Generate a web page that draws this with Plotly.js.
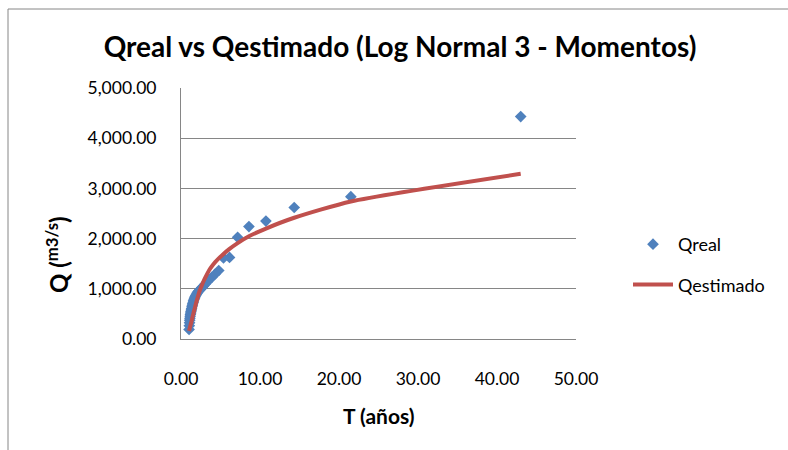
<!DOCTYPE html>
<html>
<head>
<meta charset="utf-8">
<script src="https://cdn.plot.ly/plotly-3.0.1.min.js"></script>
<style>
html,body{margin:0;padding:0;background:#fff;}
#chart{width:788px;height:450px;}
</style>
</head>
<body>
<div id="chart"></div>
<script>
// Return period T (años)
const T = [43.00, 21.50, 14.33, 10.75, 8.60, 7.17, 6.14, 5.38, 4.78, 4.30,
           3.91, 3.58, 3.31, 3.07, 2.87, 2.69, 2.53, 2.39, 2.26, 2.15,
           2.05, 1.95, 1.87, 1.79, 1.72, 1.65, 1.59, 1.54, 1.48, 1.43,
           1.39, 1.34, 1.30, 1.26, 1.23, 1.19, 1.16, 1.13, 1.10, 1.08,
           1.05, 1.02];
// Observed discharge (m3/s)
const Qreal = [4430, 2835, 2620, 2350, 2240, 2025, 1625, 1615, 1365, 1290,
               1230, 1180, 1135, 1095, 1060, 1030, 1005, 980, 960, 940,
               915, 890, 865, 840, 815, 790, 760, 730, 700, 670,
               640, 610, 580, 550, 520, 490, 455, 415, 375, 325,
               265, 190];
// Estimated discharge (Log Normal 3 - Momentos)
const Qestimado = [3290, 2740, 2415, 2200, 2045, 1910, 1795, 1695, 1605, 1525,
                   1450, 1375, 1297, 1221, 1155, 1091, 1031, 971, 909, 849,
                   794, 740, 690, 640, 595, 558, 522, 488, 455, 423,
                   391, 362, 330, 311, 290, 269, 250, 231, 213, 195,
                   177, 160];
const xTicks = [0, 10, 20, 30, 40, 50];
const yTicks = [0, 1000, 2000, 3000, 4000, 5000];

const FONT = 'Lato, Carlito, Calibri, "Open Sans", sans-serif';

// pixel -> paper helpers for the plot box (l=181, r=576, t=88, b=339)
const L = 181, R = 576, TOP = 88, BOT = 339;
const px = x => (x - L) / (R - L);
const py = y => (BOT - y) / (BOT - TOP);

const traces = [
  {
    x: T, y: Qreal, name: 'Qreal', type: 'scatter', mode: 'markers',
    legendgroup: 'a',
    marker: {symbol: 'diamond', size: 9, color: '#4F81BD', line: {width: 0}}
  },
  {
    x: T, y: Qestimado, name: 'Qestimado', type: 'scatter', mode: 'lines',
    legendgroup: 'b',
    line: {color: '#C0504D', width: 4, shape: 'spline', smoothing: 0.6}
  }
];

const layout = {
  width: 788, height: 450,
  margin: {l: L, r: 788 - R, t: TOP, b: 450 - BOT, pad: 0},
  paper_bgcolor: '#ffffff', plot_bgcolor: '#ffffff',
  font: {family: FONT, color: '#000000', size: 17},
  title: {
    text: '<b>Qreal vs Qestimado (Log Normal 3 - Momentos)</b>',
    font: {family: FONT, size: 28, color: '#000000'},
    xref: 'container', yref: 'container',
    x: 400 / 788, y: 1 - 47 / 450, xanchor: 'center', yanchor: 'middle'
  },
  xaxis: {
    range: [0, 50], tickvals: xTicks, tickformat: ',.2f',
    showgrid: false, zeroline: false,
    showline: true, linecolor: '#868686', linewidth: 1,
    ticks: '', ticklabelstandoff: 24,
    tickfont: {family: FONT, size: 17.5, color: '#000000'},
    fixedrange: true
  },
  yaxis: {
    range: [0, 5000], tickvals: yTicks, tickformat: ',.2f',
    showgrid: true, gridcolor: '#868686', gridwidth: 1,
    zeroline: false,
    showline: true, linecolor: '#868686', linewidth: 1,
    ticks: '', ticklabelstandoff: 20,
    tickfont: {family: FONT, size: 17.5, color: '#000000'},
    fixedrange: true
  },
  showlegend: true,
  legend: {
    x: px(628), y: py(226), xanchor: 'left', yanchor: 'top',
    bgcolor: 'rgba(0,0,0,0)', borderwidth: 0,
    font: {family: FONT, size: 18, color: '#000000'},
    tracegroupgap: 14, itemwidth: 40
  },
  annotations: [
    {
      text: '<b>T (años)</b>', xref: 'paper', yref: 'paper',
      x: px(379), y: py(415), xanchor: 'center', yanchor: 'middle',
      showarrow: false, font: {family: FONT, size: 21, color: '#000000'}
    },
    {
      text: '<b>Q (<sup>m3/s</sup>)</b>', xref: 'paper', yref: 'paper',
      x: px(57), y: py(255), xanchor: 'center', yanchor: 'middle',
      textangle: -90, showarrow: false,
      font: {family: FONT, size: 24, color: '#000000'}
    }
  ],
  shapes: [
    {
      type: 'rect', xref: 'paper', yref: 'paper', layer: 'below',
      x0: px(8), x1: px(800), y0: py(460), y1: py(9),
      line: {color: '#868686', width: 1}, fillcolor: 'rgba(0,0,0,0)'
    }
  ]
};

Plotly.newPlot('chart', traces, layout, {displayModeBar: false, staticPlot: true});
</script>
</body>
</html>
